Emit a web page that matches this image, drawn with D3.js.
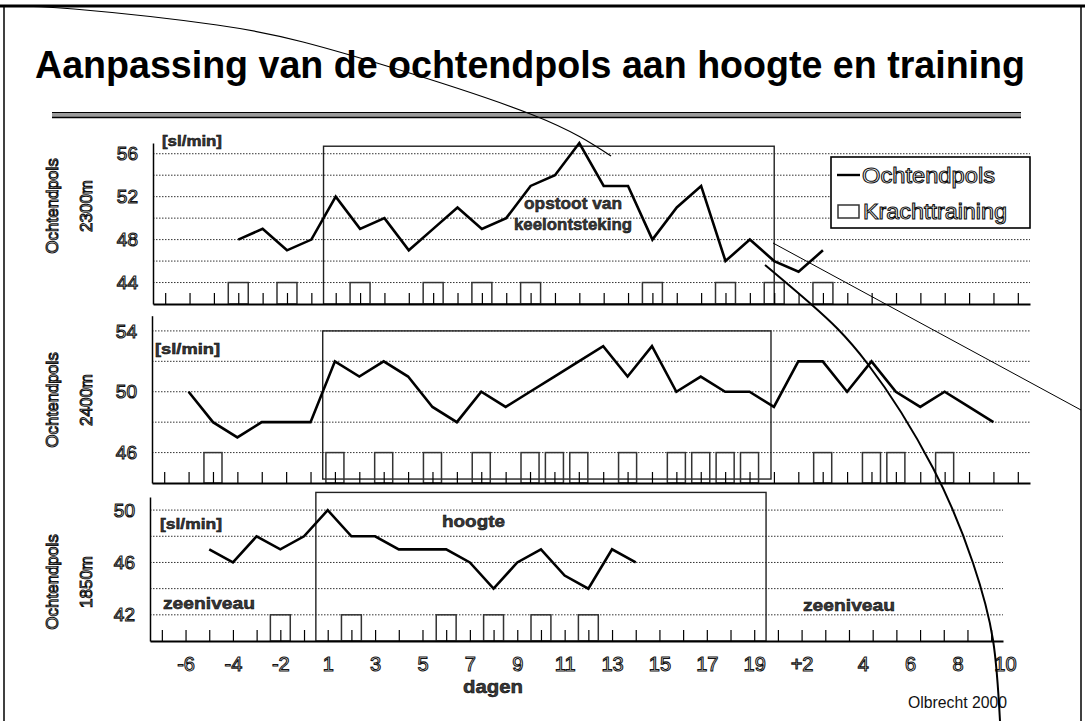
<!DOCTYPE html>
<html>
<head>
<meta charset="utf-8">
<script src="https://cdn.jsdelivr.net/npm/d3@7/dist/d3.min.js"></script>
<style>
  body { margin: 0; background: #fff; }
  svg text { font-family: "Liberation Sans", Arial, Helvetica, sans-serif; }
</style>
</head>
<body>
<svg id="chart" width="1085" height="721"></svg>
<script>
// categories: days before, during (1-19) and after the altitude camp
var days = ["-7","-6","-5","-4","-3","-2","-1",
  "1","2","3","4","5","6","7","8","9","10","11","12","13","14","15","16","17","18","19",
  "+1","+2","+3","+4","+5","+6","+7","+8","+9","+10"];

// morning pulse [sl/min], one value per day (null = not measured)
var pols2300 = [null,null,null,48,49,47,48,
  52,49,50,47,49,51,49,50,53,54,57,53,53,48,51,53,46,48,46,
  45,47,null,null,null,null,null,null,null,null];
var pols2400 = [null,50,48,47,48,48,48,
  52,51,52,51,49,48,50,49,50,51,52,53,51,53,50,51,50,50,49,
  52,52,50,52,50,49,50,49,48,null];
var pols1850 = [null,null,47,46,48,47,48,
  50,48,48,47,47,47,46,44,46,47,45,44,47,46,null,null,null,null,null,
  null,null,null,null,null,null,null,null,null,null];

// days with strength training
var kracht2300 = ["-4","-2","2","5","7","9","14","17","19","+2"];
var kracht2400 = ["-5","1","3","5","7","9","10","11","13","15","16","17","18","+2","+4","+5","+7"];
var kracht1850 = ["-2","2","6","8","10","12"];
var krachtLevel = [44, 46, 42];

// y tick labels per chart
var yTicks2300 = [44, 48, 52, 56];
var yTicks2400 = [46, 50, 54];
var yTicks1850 = [42, 46, 50];

// x tick labels (bottom chart)
var xLabelDays = ["-6","-4","-2","1","3","5","7","9","11","13","15","17","19","+2","+4","+6","+8","+10"];

var svg = d3.select("#chart");

function hollow(sel) {
  return sel.attr("fill", "#fff").attr("stroke", "#111").attr("stroke-width", 1.05);
}
function semi(sel) {
  return sel.attr("fill", "#3a3a3a").attr("stroke", "#000").attr("stroke-width", 0.5).attr("font-weight", "bold");
}
function txt(str, x, y, size, len, anchor) {
  var t = svg.append("text").attr("x", x).attr("y", y).attr("font-size", size).text(str);
  if (anchor) t.attr("text-anchor", anchor);
  if (len) t.attr("textLength", len).attr("lengthAdjust", "spacingAndGlyphs");
  return t;
}

// slide frame
svg.append("line").attr("x1", 0).attr("x2", 1085).attr("y1", 6).attr("y2", 6).attr("stroke", "#000").attr("stroke-width", 3);
svg.append("line").attr("x1", 4).attr("x2", 4).attr("y1", 6).attr("y2", 721).attr("stroke", "#000").attr("stroke-width", 1.5);
svg.append("line").attr("x1", 1081).attr("x2", 1081).attr("y1", 6).attr("y2", 721).attr("stroke", "#000").attr("stroke-width", 1.5);

// title
txt("Aanpassing van de ochtendpols aan hoogte en training", 35, 78, 38, 990)
  .attr("font-weight", "bold").attr("fill", "#000");
svg.append("rect").attr("x", 52).attr("y", 112).attr("width", 969).attr("height", 6).attr("fill", "#9a9a9a");
svg.append("line").attr("x1", 52).attr("x2", 1021).attr("y1", 112.5).attr("y2", 112.5).attr("stroke", "#000").attr("stroke-width", 1);
svg.append("line").attr("x1", 52).attr("x2", 1021).attr("y1", 117.5).attr("y2", 117.5).attr("stroke", "#000").attr("stroke-width", 1.5);

var panels = [
  {vals: pols2300, kracht: kracht2300, level: krachtLevel[0], ticks: yTicks2300,
   dom: [42, 57], yr: [304, 143], xr: [153, 1030], boxFrac: 0.82,
   frame: {l: -0.5, r: 0, top: 56.7, bottom: 42},
   unit: [162, 146, 60], title: ["Ochtendpols", "2300m"], titleY: 206},
  {vals: pols2400, kracht: kracht2400, level: krachtLevel[1], ticks: yTicks2400,
   dom: [44, 55], yr: [483, 315.7], xr: [152, 1030], boxFrac: 0.74,
   frame: {l: -0.5, r: -0.12, top: 54, bottom: 44.26},
   unit: [155, 354, 65], title: ["Ochtendpols", "2400m"], titleY: 400},
  {vals: pols1850, kracht: kracht1850, level: krachtLevel[2], ticks: yTicks1850,
   dom: [40, 51], yr: [641, 497], xr: [150, 1003], boxFrac: 0.84,
   frame: {l: -0.5, r: 0.5, top: 51.35, bottom: 40},
   unit: [160, 529, 62], title: ["Ochtendpols", "1850m"], titleY: 582}
];

var xBottom;
panels.forEach(function(p, i) {
  var x = d3.scalePoint().domain(days).range(p.xr).padding(0.5);
  var y = d3.scaleLinear().domain(p.dom).range(p.yr);
  var step = x.step();
  if (i === 2) xBottom = x;
  var g = svg.append("g");

  // dotted gridlines every 2
  var grid = d3.range(p.dom[0] + 2, p.dom[1] + 0.01, 2);
  g.selectAll(".grid").data(grid).enter().append("line")
    .attr("x1", p.xr[0]).attr("x2", p.xr[1])
    .attr("y1", function(d) { return y(d); }).attr("y2", function(d) { return y(d); })
    .attr("stroke", "#333").attr("stroke-width", 1).attr("stroke-dasharray", "1.5,1.5");

  // altitude period frame
  var fx0 = x("1") + p.frame.l * step, fx1 = x("19") + p.frame.r * step;
  g.append("rect").attr("x", fx0).attr("y", y(p.frame.top))
    .attr("width", fx1 - fx0).attr("height", y(p.frame.bottom) - y(p.frame.top))
    .attr("fill", "none").attr("stroke", "#222").attr("stroke-width", 1.4);

  // strength training boxes
  var bw = step * p.boxFrac;
  g.selectAll(".kr").data(p.kracht).enter().append("rect")
    .attr("x", function(d) { return x(d) - bw / 2; })
    .attr("y", y(p.level)).attr("width", bw).attr("height", y(p.dom[0]) - y(p.level))
    .attr("fill", "none").attr("stroke", "#333").attr("stroke-width", 1.5);

  // x axis with inward ticks
  var ax = g.append("g").attr("transform", "translate(0," + p.yr[0] + ")")
    .call(d3.axisBottom(x).tickSizeInner(-11).tickSizeOuter(0).tickFormat(""));
  ax.select(".domain").attr("stroke", "#000").attr("stroke-width", 2);
  ax.selectAll(".tick line").attr("stroke", "#000").attr("stroke-width", 1.2);

  // y axis
  var ay = g.append("g").attr("transform", "translate(" + p.xr[0] + ",0)")
    .call(d3.axisLeft(y).tickValues(p.ticks).tickSize(0).tickPadding(15).tickFormat(d3.format("d")));
  ay.select(".domain").attr("stroke", "#000").attr("stroke-width", 1.5);
  ay.selectAll("text").attr("font-size", 19).attr("font-family", null).call(hollow);

  // morning pulse line
  var line = d3.line()
    .defined(function(d) { return d != null; })
    .x(function(d, j) { return x(days[j]); })
    .y(function(d) { return y(d); });
  g.append("path").datum(p.vals).attr("d", line)
    .attr("fill", "none").attr("stroke", "#000").attr("stroke-width", 2.6).attr("stroke-linejoin", "miter");

  // unit label
  txt("[sl/min]", p.unit[0], p.unit[1], 15, p.unit[2]).call(semi);

  // rotated y title
  var tt = svg.append("text").attr("transform", "translate(0," + p.titleY + ") rotate(-90)")
    .attr("text-anchor", "middle").attr("font-size", 17).call(hollow);
  tt.append("tspan").attr("x", 0).attr("y", 58).text(p.title[0]);
  tt.append("tspan").attr("x", 0).attr("y", 92).text(p.title[1]);
});

// x tick labels under the bottom chart
var axl = svg.append("g").attr("transform", "translate(0,641)")
  .call(d3.axisBottom(xBottom).tickValues(xLabelDays).tickSize(0).tickPadding(16)
    .tickFormat(function(d) { return d === "+2" ? d : d.replace("+", ""); }));
axl.select(".domain").remove();
axl.selectAll("text").attr("font-size", 20).attr("font-family", null).call(hollow)
  .attr("dx", function(d) { return (d.charAt(0) === "+" && d !== "+2") ? xBottom.step() * 0.58 : 0; });

// annotations
txt("opstoot van", 573, 209, 17, 98, "middle").call(semi);
txt("keelontsteking", 573, 230, 17, 118, "middle").call(semi);
txt("hoogte", 442, 527, 17, 63).call(semi);
txt("zeeniveau", 163, 609, 17, 92).call(semi);
txt("zeeniveau", 803, 611, 17, 92).call(semi);
txt("dagen", 493, 693, 19, 60, "middle").call(semi);
txt("Olbrecht 2000", 908, 708, 16, 99).attr("fill", "#111");

// legend
var lg = svg.append("g");
lg.append("rect").attr("x", 831).attr("y", 157).attr("width", 199).attr("height", 71)
  .attr("fill", "#fff").attr("stroke", "#000").attr("stroke-width", 1.6);
lg.append("line").attr("x1", 837).attr("x2", 860).attr("y1", 175).attr("y2", 175)
  .attr("stroke", "#000").attr("stroke-width", 2.4);
lg.append("rect").attr("x", 838).attr("y", 205).attr("width", 21).attr("height", 13)
  .attr("fill", "none").attr("stroke", "#333").attr("stroke-width", 1.5);
txt("Ochtendpols", 862, 183, 22, 133).call(hollow);
txt("Krachttraining", 863, 219, 22, 144).call(hollow);

// template decoration lines from the slide
var curve = d3.line().curve(d3.curveNatural);
svg.append("path").attr("d", curve([[8,6],[74,9],[217,25],[303,42],[390,67],[533,115],[611,156]]))
  .attr("fill", "none").attr("stroke", "#000").attr("stroke-width", 1.2);
svg.append("path").attr("d", d3.line()([[773,243],[1081,410]]))
  .attr("fill", "none").attr("stroke", "#000").attr("stroke-width", 1);
svg.append("path").attr("d", curve([[765,265],[812,305],[867,363],[933,468],[973,563],[993,640],[1000,721]]))
  .attr("fill", "none").attr("stroke", "#000").attr("stroke-width", 2);
</script>
</body>
</html>
